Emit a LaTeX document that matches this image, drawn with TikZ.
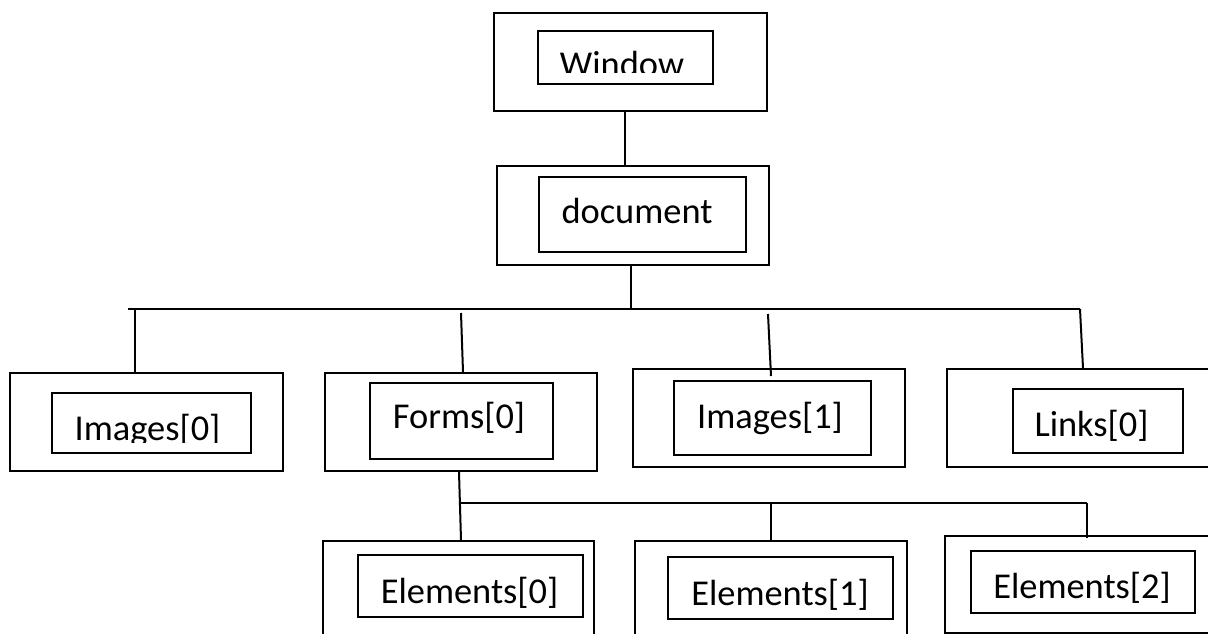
\documentclass[tikz,border=0pt]{standalone}
\usepackage{fontspec}
\setmainfont{Carlito}
\begin{document}
\begin{tikzpicture}[x=1pt,y=-1pt,
  obox/.style={draw, rectangle, inner sep=0pt, line width=2pt},
  ibox/.style={draw, rectangle, inner sep=0pt, line width=2.4pt},
  lbl/.style={inner sep=0pt, anchor=base, font=\fontsize{36.4pt}{40pt}\selectfont},
  conn/.style={line width=2pt}]
\clip (0,0) rectangle (1208,634);
\fill[white] (0,0) rectangle (1208,634);

% boxes: outer and inner
\node[obox, minimum width=273pt, minimum height=98pt] (win) at (630.5,62) {};
\node[ibox, minimum width=175pt, minimum height=53pt] (winI) at (625.5,57.5) {};
\node[obox, minimum width=272pt, minimum height=99pt] (doc) at (633,215.5) {};
\node[ibox, minimum width=207pt, minimum height=75pt] (docI) at (642.5,214.5) {};

\node[obox, minimum width=273pt, minimum height=98pt] (img0) at (146.5,422) {};
\node[ibox, minimum width=199pt, minimum height=60pt] (img0I) at (151.5,423) {};
\node[obox, minimum width=272pt, minimum height=98pt] (forms) at (461,422) {};
\node[ibox, minimum width=183pt, minimum height=76pt] (formsI) at (461.5,421) {};
\node[obox, minimum width=272pt, minimum height=98pt] (img1) at (769,418) {};
\node[ibox, minimum width=197pt, minimum height=74pt] (img1I) at (772.5,418) {};
\node[obox, minimum width=267pt, minimum height=98pt] (links) at (1080.5,418) {};
\node[ibox, minimum width=170pt, minimum height=64pt] (linksI) at (1098,421) {};

\node[obox, minimum width=271pt, minimum height=104pt] (el0) at (458.5,593) {};
\node[ibox, minimum width=225pt, minimum height=62pt] (el0I) at (470.5,586) {};
\node[obox, minimum width=272pt, minimum height=104pt] (el1) at (771,593) {};
\node[ibox, minimum width=225pt, minimum height=62pt] (el1I) at (780.5,588) {};
\node[obox, minimum width=269pt, minimum height=97pt] (el2) at (1079.5,584.5) {};
\node[ibox, minimum width=224pt, minimum height=62pt] (el2I) at (1083,582) {};

% labels
\begin{scope}
  \clip (500,20) rectangle (760,73);
  \node[lbl] (tWin) at (622,76.5) {Window};
\end{scope}
\node[lbl] (tDoc) at (637,223) {document};
\begin{scope}
  \clip (40,380) rectangle (270,442);
  \node[lbl] (tImg0) at (147.5,440) {Images[0]};
\end{scope}
\node[lbl] (tForms) at (459,428) {Forms[0]};
\node[lbl] (tImg1) at (770,428) {Images[1]};
\node[lbl] (tLinks) at (1091.5,436) {Links[0]};
\node[lbl] (tEl0) at (469.5,603) {Elements[0]};
\node[lbl] (tEl1) at (780,605) {Elements[1]};
\node[lbl] (tEl2) at (1082,598) {Elements[2]};

% bus coordinates
\coordinate (b1L) at (128,309);
\coordinate (b1D) at (631,309);
\coordinate (b1R) at (1080,309);
\coordinate (b1I0) at (135,309);
\coordinate (b1F) at (461,313);
\coordinate (b1I1) at (768,314);
\coordinate (b2L) at (459,503);
\coordinate (b2M) at (771,503);
\coordinate (b2R) at (1087,503);

% connectors
\draw[conn] ([xshift=-5.5pt]win.south) -- ([xshift=-8pt]doc.north);
\draw[conn] ([xshift=-2pt]doc.south) -- (b1D);
\draw[conn] (b1L) -- (b1R);
\draw[conn] (b1I0) -- (img0.north -| b1I0);
\draw[conn] (b1F) -- ([xshift=2pt]forms.north);
\draw[conn] (b1I1) -- ([xshift=2pt,yshift=-8pt]img1.north);
\draw[conn] (b1R) -- ([xshift=2.5pt]links.north);
\draw[conn] ([xshift=-2pt]forms.south) -- ([xshift=2.5pt]el0.north);
\draw[conn] (b2L) -- (b2R);
\draw[conn] (b2M) -- (el1.north);
\draw[conn] (b2R) -- ([yshift=-3pt]el2.north -| b2R);
\end{tikzpicture}
\end{document}
